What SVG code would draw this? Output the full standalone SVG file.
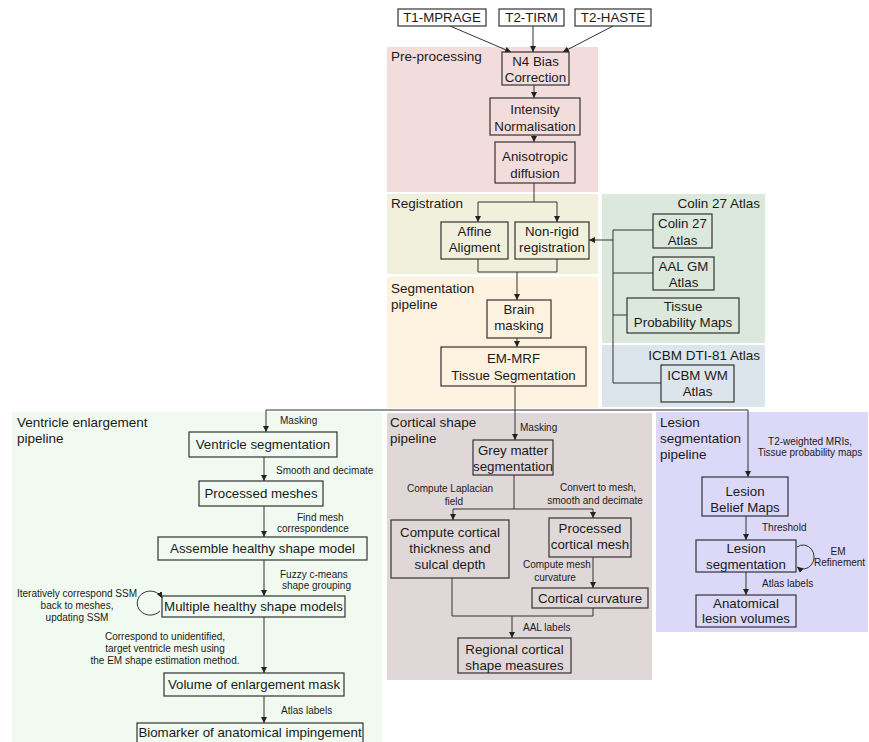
<svg xmlns="http://www.w3.org/2000/svg" width="869" height="742" viewBox="0 0 869 742">
<defs>
<marker id="arr" viewBox="0 0 8 8" refX="8" refY="4" markerWidth="6" markerHeight="6" orient="auto" markerUnits="userSpaceOnUse">
<path d="M0,0 L8,4 L0,8 z" fill="#222"/>
</marker>
<style>
.bg{stroke:none}
.box{fill:none;stroke:#333;stroke-width:1.2}
.wbox{fill:#fff;stroke:#333;stroke-width:1.2}
.t{font-family:"Liberation Sans",Arial,sans-serif;font-size:13.3px;fill:#1a1a1a;text-anchor:middle}
.ti{font-family:"Liberation Sans",Arial,sans-serif;font-size:13.5px;fill:#1a1a1a}
.lb{font-family:"Liberation Sans",Arial,sans-serif;font-size:10px;fill:#1a1a1a}
.c{fill:none;stroke:#333;stroke-width:1}
.a{fill:none;stroke:#333;stroke-width:1;marker-end:url(#arr)}
</style>
</defs>
<rect width="869" height="742" fill="#fff"/>

<!-- section backgrounds -->
<g id="sections">
<rect class="bg" x="387" y="47" width="211" height="145" fill="#f3dcdc"/>
<rect class="bg" x="387" y="194" width="211" height="80" fill="#f0f0dd"/>
<rect class="bg" x="387" y="277" width="211" height="131" fill="#fdf1df"/>
<rect class="bg" x="602" y="194" width="163" height="149" fill="#dde8dc"/>
<rect class="bg" x="602" y="345" width="163" height="62" fill="#dde5ec"/>
<rect class="bg" x="12" y="412" width="370" height="330" fill="#f0faf0"/>
<rect class="bg" x="387" y="413" width="265" height="267" fill="#e0d8d8"/>
<rect class="bg" x="656" y="412" width="212" height="220" fill="#dcd8f7"/>
<text class="ti" x="391" y="61">Pre-processing</text>
<text class="ti" x="391" y="208">Registration</text>
<text class="ti" x="391" y="293">Segmentation</text>
<text class="ti" x="391" y="309">pipeline</text>
<text class="ti" x="760" y="208" text-anchor="end">Colin 27 Atlas</text>
<text class="ti" x="760" y="360" text-anchor="end">ICBM DTI-81 Atlas</text>
<text class="ti" x="17" y="427">Ventricle enlargement</text>
<text class="ti" x="17" y="443">pipeline</text>
<text class="ti" x="390" y="427">Cortical shape</text>
<text class="ti" x="390" y="443">pipeline</text>
<text class="ti" x="660" y="427">Lesion</text>
<text class="ti" x="660" y="443">segmentation</text>
<text class="ti" x="660" y="459">pipeline</text>
</g>

<!-- connectors -->
<g id="connectors">
<path class="a" d="M450,26 L511,52"/>
<path class="a" d="M533,26 L533,52"/>
<path class="a" d="M613,26 L563,52"/>
<path class="a" d="M534,85 V98"/>
<path class="a" d="M534,135 V142"/>
<path class="c" d="M534,183 V202 M478,202 H557"/>
<path class="a" d="M478,202 V222"/>
<path class="a" d="M557,202 V222"/>
<path class="c" d="M478,259 V272 H557 V259"/>
<path class="a" d="M517,272 V300"/>
<path class="a" d="M517,338 V347"/>
<path class="c" d="M515,386 V410 M266,410 H748"/>
<path class="a" d="M266,410 V432"/>
<path class="a" d="M515,410 V440"/>
<path class="a" d="M748,410 V477"/>
<path class="c" d="M613,230 V383 M613,230 H653 M613,273 H653 M613,315 H627 M613,383 H661"/>
<path class="a" d="M613,240 H589"/>
<!-- ventricle -->
<path class="a" d="M264,457 V481"/>
<path class="a" d="M264,506 V537"/>
<path class="a" d="M264,560 V596"/>
<path class="a" d="M264,617 V673"/>
<path class="a" d="M264,696 V723"/>
<path class="a" d="M160,611 A13,12 0 1,1 162,598"/>
<!-- cortical -->
<path class="c" d="M514,475 V509 M453,509 H593"/>
<path class="a" d="M453,509 V520"/>
<path class="a" d="M593,509 V518"/>
<path class="a" d="M593,557 V588"/>
<path class="c" d="M452,578 V616 H593 V608"/>
<path class="a" d="M512,616 V638"/>
<!-- lesion -->
<path class="a" d="M746,516 V540"/>
<path class="a" d="M746,572 V595"/>
<path class="a" d="M797,547 A11,12 0 1,1 797,567"/>
</g>

<!-- connector labels -->
<g id="labels">
<text class="lb" x="280" y="424">Masking</text>
<text class="lb" x="276" y="474">Smooth and decimate</text>
<text class="lb" x="297" y="521">Find mesh</text>
<text class="lb" x="277" y="532">correspondence</text>
<text class="lb" x="280" y="578">Fuzzy c-means</text>
<text class="lb" x="282" y="589">shape grouping</text>
<text class="lb" x="77" y="597" text-anchor="middle">Iteratively correspond SSM</text>
<text class="lb" x="77" y="609" text-anchor="middle">back to meshes,</text>
<text class="lb" x="77" y="621" text-anchor="middle">updating SSM</text>
<text class="lb" x="165" y="640" text-anchor="middle">Correspond to unidentified,</text>
<text class="lb" x="165" y="652" text-anchor="middle">target ventricle mesh using</text>
<text class="lb" x="165" y="664" text-anchor="middle">the EM shape estimation method.</text>
<text class="lb" x="281" y="714">Atlas labels</text>
<text class="lb" x="520" y="431">Masking</text>
<text class="lb" x="407" y="492">Compute Laplacian</text>
<text class="lb" x="454" y="505" text-anchor="middle">field</text>
<text class="lb" x="598" y="491" text-anchor="middle">Convert to mesh,</text>
<text class="lb" x="595" y="504" text-anchor="middle">smooth and decimate</text>
<text class="lb" x="523" y="568">Compute mesh</text>
<text class="lb" x="555" y="581" text-anchor="middle">curvature</text>
<text class="lb" x="523" y="631">AAL labels</text>
<text class="lb" x="810" y="445" text-anchor="middle">T2-weighted MRIs,</text>
<text class="lb" x="810" y="456" text-anchor="middle">Tissue probability maps</text>
<text class="lb" x="762" y="531">Threshold</text>
<text class="lb" x="838" y="555" text-anchor="middle">EM</text>
<text class="lb" x="814" y="566">Refinement</text>
<text class="lb" x="762" y="587">Atlas labels</text>
</g>

<!-- nodes -->
<g id="t1"><rect class="wbox" x="398" y="9" width="88" height="17"/><text class="t" x="442" y="22">T1-MPRAGE</text></g>
<g id="t2tirm"><rect class="wbox" x="499" y="9" width="65" height="17"/><text class="t" x="531.5" y="22">T2-TIRM</text></g>
<g id="t2haste"><rect class="wbox" x="575" y="9" width="76" height="17"/><text class="t" x="613" y="22">T2-HASTE</text></g>
<g id="n4"><rect class="box" x="502" y="52" width="67" height="33"/><text class="t" x="535.5" y="66">N4 Bias</text><text class="t" x="535.5" y="82">Correction</text></g>
<g id="intensity"><rect class="box" x="490" y="98" width="90" height="37"/><text class="t" x="535" y="114">Intensity</text><text class="t" x="535" y="131">Normalisation</text></g>
<g id="aniso"><rect class="box" x="495" y="142" width="80" height="41"/><text class="t" x="535" y="161">Anisotropic</text><text class="t" x="535" y="178">diffusion</text></g>
<g id="affine"><rect class="box" x="441" y="222" width="67" height="37"/><text class="t" x="474.5" y="236">Affine</text><text class="t" x="474.5" y="252">Aligment</text></g>
<g id="nonrigid"><rect class="box" x="515" y="222" width="74" height="37"/><text class="t" x="552" y="236">Non-rigid</text><text class="t" x="552" y="252">registration</text></g>
<g id="brain"><rect class="box" x="487" y="300" width="64" height="38"/><text class="t" x="519" y="314">Brain</text><text class="t" x="519" y="330">masking</text></g>
<g id="emmrf"><rect class="box" x="441" y="347" width="145" height="39"/><text class="t" x="513.5" y="363">EM-MRF</text><text class="t" x="513.5" y="380">Tissue Segmentation</text></g>
<g id="colin"><rect class="box" x="653" y="214" width="59" height="34"/><text class="t" x="682.5" y="228">Colin 27</text><text class="t" x="682.5" y="245">Atlas</text></g>
<g id="aal"><rect class="box" x="653" y="257" width="61" height="33"/><text class="t" x="683.5" y="271">AAL GM</text><text class="t" x="683.5" y="287">Atlas</text></g>
<g id="tpm"><rect class="box" x="627" y="298" width="112" height="35"/><text class="t" x="683" y="311">Tissue</text><text class="t" x="683" y="327">Probability Maps</text></g>
<g id="icbm"><rect class="box" x="661" y="365" width="73" height="37"/><text class="t" x="697.5" y="380">ICBM WM</text><text class="t" x="697.5" y="396">Atlas</text></g>

<g id="vseg"><rect class="box" x="189" y="432" width="148" height="25"/><text class="t" x="263" y="449">Ventricle segmentation</text></g>
<g id="pmesh"><rect class="box" x="199" y="481" width="124" height="25"/><text class="t" x="261" y="498">Processed meshes</text></g>
<g id="assemble"><rect class="box" x="158" y="537" width="209" height="23"/><text class="t" x="262.5" y="553">Assemble healthy shape model</text></g>
<g id="multiple"><rect class="box" x="162" y="596" width="183" height="21"/><text class="t" x="253.5" y="611">Multiple healthy shape models</text></g>
<g id="volume"><rect class="box" x="164" y="673" width="180" height="23"/><text class="t" x="254" y="689">Volume of enlargement mask</text></g>
<g id="biomarker"><rect class="box" x="137" y="723" width="226" height="25"/><text class="t" x="250" y="737">Biomarker of anatomical impingement</text></g>

<g id="greymatter"><rect class="box" x="473" y="440" width="80" height="35"/><text class="t" x="513" y="455">Grey matter</text><text class="t" x="513" y="471">segmentation</text></g>
<g id="thickness"><rect class="box" x="391" y="520" width="118" height="58"/><text class="t" x="450" y="537">Compute cortical</text><text class="t" x="450" y="553">thickness and</text><text class="t" x="450" y="569">sulcal depth</text></g>
<g id="pcmesh"><rect class="box" x="549" y="518" width="82" height="39"/><text class="t" x="590" y="533">Processed</text><text class="t" x="590" y="549">cortical mesh</text></g>
<g id="curvature"><rect class="box" x="532" y="588" width="116" height="20"/><text class="t" x="590" y="603">Cortical curvature</text></g>
<g id="regional"><rect class="box" x="458" y="638" width="113" height="35"/><text class="t" x="514.5" y="654">Regional cortical</text><text class="t" x="514.5" y="670">shape measures</text></g>

<g id="belief"><rect class="box" x="702" y="477" width="86" height="39"/><text class="t" x="745" y="496">Lesion</text><text class="t" x="745" y="512">Belief Maps</text></g>
<g id="lesionseg"><rect class="box" x="696" y="540" width="100" height="32"/><text class="t" x="746" y="553">Lesion</text><text class="t" x="746" y="569">segmentation</text></g>
<g id="lesionvol"><rect class="box" x="696" y="595" width="100" height="32"/><text class="t" x="746" y="608">Anatomical</text><text class="t" x="746" y="623">lesion volumes</text></g>
</svg>
